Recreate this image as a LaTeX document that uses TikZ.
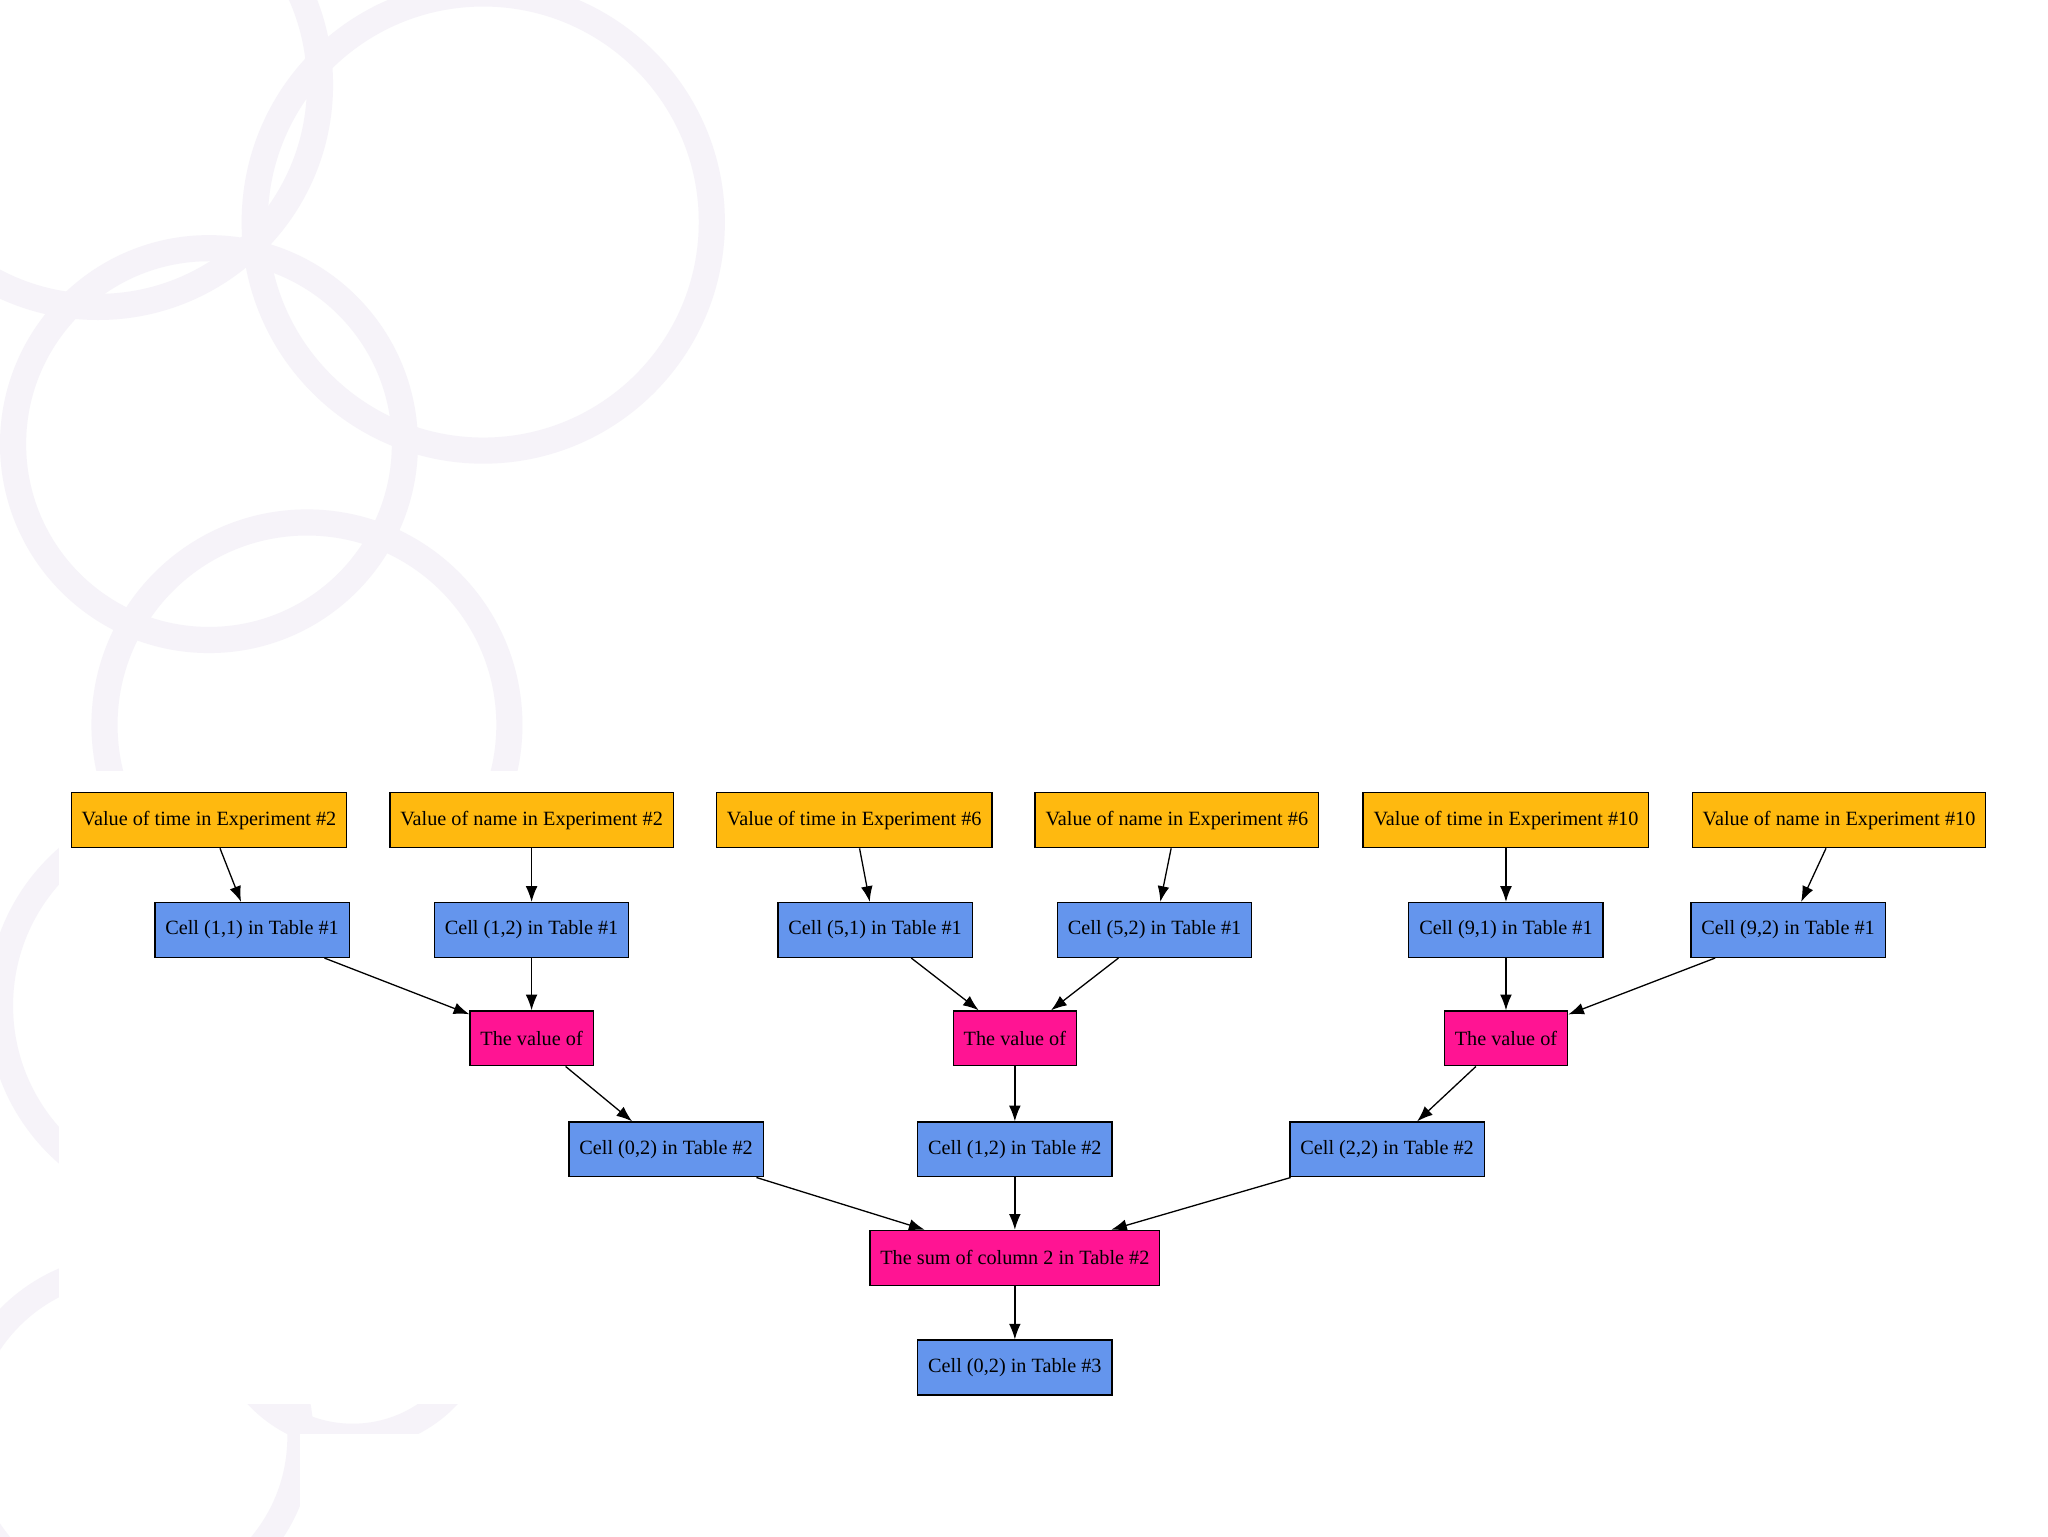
\documentclass[tikz,border=0pt]{standalone}
\usepackage{fontspec}
\setmainfont{Liberation Serif}
\usetikzlibrary{arrows.meta}
\definecolor{org}{HTML}{FFB90F}
\definecolor{blu}{HTML}{6495ED}
\definecolor{pnk}{HTML}{FF1493}
\definecolor{bgc}{HTML}{F6F3F9}
\begin{document}
\begin{tikzpicture}[x=1pt,y=-1pt,
  box/.style={draw=black,line width=1pt,minimum height=42pt,inner xsep=8pt,font=\fontsize{15.5}{18}\selectfont},
  o/.style={box,fill=org}, b/.style={box,fill=blu}, p/.style={box,fill=pnk},
  e/.style={-{Latex[length=12pt,width=9pt]},line width=1pt},
  bg/.style={draw=bgc,line width=20pt}]
\useasboundingbox (0,0) rectangle (1568,1176);
\fill[white] (0,0) rectangle (1568,1176);
\draw[bg] (75,65) circle (170);
\draw[bg] (370,170) circle (175);
\draw[bg] (160,340) circle (150);
\draw[bg] (235,555) circle (155);
\draw[bg] (150,770) circle (150);
\draw[bg] (100,1100) circle (130);
\draw[bg] (270,1000) circle (100);
\fill[white] (45,590) rectangle (1568,1075);
\fill[white] (360,1075) rectangle (1568,1176);
\fill[white] (230,1098) rectangle (1568,1176);
\node[o] (a1) at (160,628) {Value of time in Experiment \#2};
\node[o] (a2) at (407,628) {Value of name in Experiment \#2};
\node[o] (a3) at (654,628) {Value of time in Experiment \#6};
\node[o] (a4) at (901,628) {Value of name in Experiment \#6};
\node[o] (a5) at (1153,628) {Value of time in Experiment \#10};
\node[o] (a6) at (1408,628) {Value of name in Experiment \#10};
\node[b] (b1) at (193,712) {Cell (1,1) in Table \#1};
\node[b] (b2) at (407,712) {Cell (1,2) in Table \#1};
\node[b] (b3) at (670,712) {Cell (5,1) in Table \#1};
\node[b] (b4) at (884,712) {Cell (5,2) in Table \#1};
\node[b] (b5) at (1153,712) {Cell (9,1) in Table \#1};
\node[b] (b6) at (1369,712) {Cell (9,2) in Table \#1};
\node[p] (c1) at (407,795) {The value of};
\node[p] (c2) at (777,795) {The value of};
\node[p] (c3) at (1153,795) {The value of};
\node[b] (d1) at (510,880) {Cell (0,2) in Table \#2};
\node[b] (d2) at (777,880) {Cell (1,2) in Table \#2};
\node[b] (d3) at (1062,880) {Cell (2,2) in Table \#2};
\node[p] (s) at (777,963) {The sum of column 2 in Table \#2};
\node[b] (f) at (777,1047) {Cell (0,2) in Table \#3};
\foreach \i in {1,...,6} \draw[e] (a\i) -- (b\i);
\draw[e] (b1) -- (c1); \draw[e] (b2) -- (c1);
\draw[e] (b3) -- (c2); \draw[e] (b4) -- (c2);
\draw[e] (b5) -- (c3); \draw[e] (b6) -- (c3);
\draw[e] (c1) -- (d1); \draw[e] (c2) -- (d2); \draw[e] (c3) -- (d3);
\draw[e] (d1) -- (s); \draw[e] (d2) -- (s); \draw[e] (d3) -- (s);
\draw[e] (s) -- (f);
\end{tikzpicture}
\end{document}
